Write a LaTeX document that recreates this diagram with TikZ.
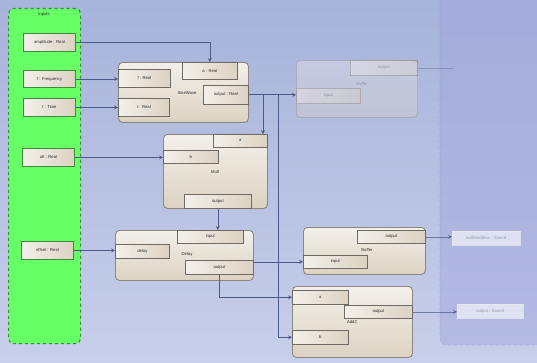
\documentclass[tikz,border=0pt]{standalone}
\usepackage{fontspec}
\setmainfont{Liberation Sans}
\usetikzlibrary{arrows.meta}
\definecolor{bgtop}{HTML}{A6B3DA}
\definecolor{bgbot}{HTML}{C8CFEA}
\definecolor{panelc}{HTML}{9FA3DA}
\definecolor{greenc}{HTML}{66FF66}
\definecolor{greend}{HTML}{3F8A3F}
\definecolor{blkA}{HTML}{F3F0EA}
\definecolor{blkB}{HTML}{DCD2C2}
\definecolor{blkline}{HTML}{8C8782}
\definecolor{portline}{HTML}{6F6A64}
\definecolor{connc}{HTML}{4B5A86}
\definecolor{txtc}{HTML}{2A2A2A}
\tikzset{
  blk/.style={draw=blkline, line width=0.9pt, rounded corners=4pt, top color=blkA, bottom color=blkB, inner sep=0pt, anchor=north west},
  portbox/.style={draw=portline, line width=0.7pt, left color=blkA, right color=blkB, inner sep=0pt, anchor=north west, font=\fontsize{4.2}{5}\selectfont, text=txtc},
  inbox/.style={draw=greend, line width=0.9pt, left color=blkA, right color=blkB, inner sep=0pt, anchor=north west, font=\fontsize{4.2}{5}\selectfont, text=txtc},
  lbl/.style={font=\fontsize{4.2}{5}\selectfont, text=txtc, inner sep=0pt},
  conn/.style={draw=connc, line width=0.7pt, -{Stealth[length=4pt,width=4pt,inset=1.5pt]}},
  ghost/.style={opacity=0.35},
}
\begin{document}
\begin{tikzpicture}[x=1pt,y=-1pt]
\useasboundingbox (0,0) rectangle (537,363);
% background
\shade[top color=bgtop, bottom color=bgbot] (0,0) rectangle (537,363);
% right panel
\fill[panelc, opacity=0.45, rounded corners=6pt] (440,-10) rectangle (560,345);
\draw[draw=panelc!80!black, opacity=0.3, dashed, line width=0.6pt, rounded corners=6pt] (440,-10) -- (440,345) -- (560,345);
% inputs panel
\node[draw=greend, dashed, line width=1.1pt, fill=greenc, rounded corners=5pt, minimum width=72pt, minimum height=335pt, inner sep=0pt, anchor=north west] (inputs) at (8,8) {};
\node[lbl] (inputsl) at (44,14) {Inputs};
\node[inbox, minimum width=52pt, minimum height=18pt] (amp) at (23,33) {amplitude : Real};
\node[inbox, minimum width=52pt, minimum height=17pt] (ff) at (23,70) {f : Frequency};
\node[inbox, minimum width=52pt, minimum height=18pt] (tt) at (23,98) {t : Time};
\node[inbox, minimum width=52pt, minimum height=18pt] (att) at (22,148) {att : Real};
\node[inbox, minimum width=52pt, minimum height=18pt] (off) at (21,241) {offset : Real};
% SineWave
\node[blk, minimum width=130pt, minimum height=60pt] (sine) at (118,62) {};
\node[portbox, minimum width=55pt, minimum height=17pt] (sa) at (182,62) {a : Real};
\node[portbox, minimum width=52pt, minimum height=18pt] (sf) at (118,69) {f : Real};
\node[portbox, minimum width=51pt, minimum height=18pt] (st) at (118,98) {t : Real};
\node[portbox, minimum width=45pt, minimum height=19pt] (so) at (203,85) {output : Real};
\node[lbl] (sinel) at (187,93) {SineWave};
% Mult
\node[blk, minimum width=104pt, minimum height=74pt] (mult) at (163,134) {};
\node[portbox, minimum width=54pt, minimum height=13pt] (ma) at (213,134) {a};
\node[portbox, minimum width=55pt, minimum height=13pt] (mb) at (163,150) {b};
\node[portbox, minimum width=67pt, minimum height=14pt] (mo) at (184,194) {output};
\node[lbl] (multl) at (215,172) {Mult};
% Delay
\node[blk, minimum width=138pt, minimum height=50pt] (delay) at (115,230) {};
\node[portbox, minimum width=66pt, minimum height=13pt] (di) at (177,230) {input};
\node[portbox, minimum width=54pt, minimum height=14pt] (dd) at (115,244) {delay};
\node[portbox, minimum width=68pt, minimum height=14pt] (dout) at (185,260) {output};
\node[lbl] (delayl) at (187,254) {Delay};
% Buffer 1 (faded)
\begin{scope}[ghost]
\node[blk, minimum width=121pt, minimum height=57pt] (buf1) at (296,60) {};
\node[portbox, minimum width=67pt, minimum height=15pt] (b1o) at (350,60) {output};
\node[portbox, minimum width=64pt, minimum height=15pt] (b1in) at (296,88) {input};
\node[lbl] (buf1l) at (362,84) {Buffer};
\coordinate (b1end) at (453,69);
\draw[draw=connc, line width=0.6pt] (b1o.east) -- (b1o.east -| b1end);
\end{scope}
% Buffer 2
\node[blk, minimum width=122pt, minimum height=47pt] (buf2) at (303,227) {};
\node[portbox, minimum width=68pt, minimum height=13pt] (b2o) at (357,230) {output};
\node[portbox, minimum width=64pt, minimum height=13pt] (b2in) at (303,255) {input};
\node[lbl] (buf2l) at (367,250) {Buffer};
% Add2
\node[blk, minimum width=120pt, minimum height=71pt] (add) at (292,286) {};
\node[portbox, minimum width=56pt, minimum height=14pt] (aa) at (292,290) {a};
\node[portbox, minimum width=68pt, minimum height=13pt] (ao) at (344,305) {output};
\node[portbox, minimum width=56pt, minimum height=14pt] (ab) at (292,330) {b};
\node[lbl] (addl) at (352,322) {Add2};
% outputs
\node[draw=white!85!gray, fill=white!70!bgbot, opacity=0.75, minimum width=68pt, minimum height=14pt, inner sep=0pt, anchor=north west, font=\fontsize{4.2}{5}\selectfont, text=gray] (snd1) at (452,231) {bufferedSine : Sound};
\node[draw=white!85!gray, fill=white!70!bgbot, opacity=0.75, minimum width=66pt, minimum height=14pt, inner sep=0pt, anchor=north west, font=\fontsize{4.2}{5}\selectfont, text=gray] (snd2) at (457,304) {output : Sound};
% connectors
\draw[conn] (amp.east) -| (sa.north);
\draw[conn] (ff.east) -- (ff.east -| sf.west);
\draw[conn] (tt.east) -- (tt.east -| st.west);
\draw[conn] (so.east) -- (so.east -| b1in.west);
\coordinate (j1) at (263,94.5);
\coordinate (j2) at (278,94.5);
\draw[conn] (j1) -- (j1 |- ma.north);
\draw[conn] (j2) |- (ab.west);
\draw[conn] (att.east) -- (att.east -| mb.west);
\draw[conn] (mo.south) -- (mo.south |- di.north);
\draw[conn] (off.east) -- (off.east -| dd.west);
\draw[conn] (b2in.west -| delay.east) -- (b2in.west);
\draw[conn] (dout.south) |- (aa.west);
\draw[conn, opacity=0.7] (b2o.east) -- (b2o.east -| snd1.west);
\draw[conn, opacity=0.7] (ao.east) -- (ao.east -| snd2.west);
\end{tikzpicture}
\end{document}
